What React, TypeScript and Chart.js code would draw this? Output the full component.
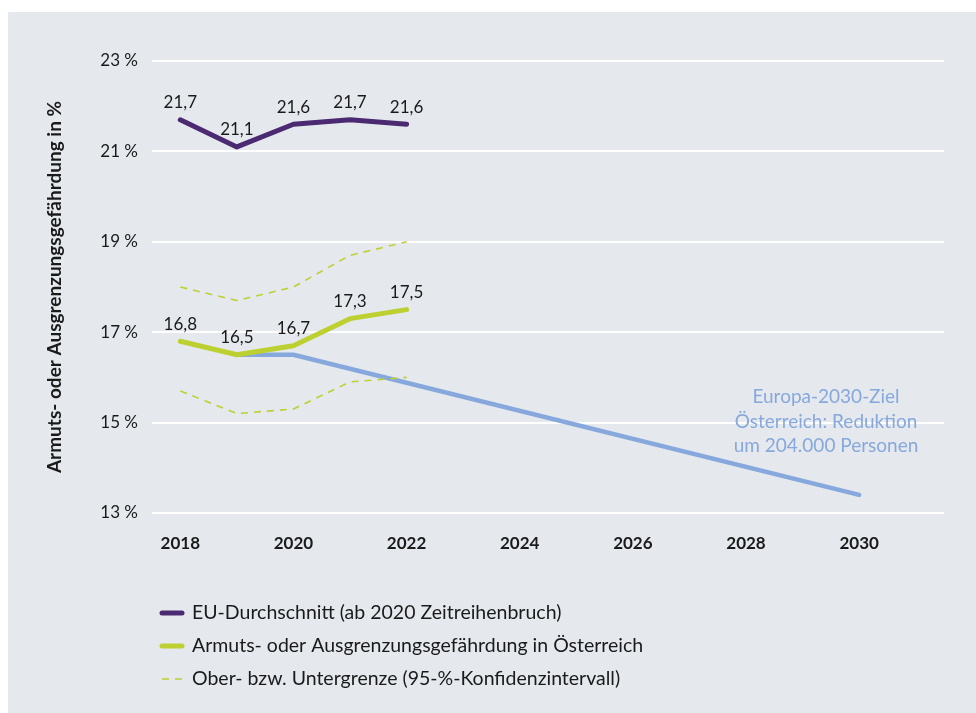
import React, { useEffect, useRef } from "react";
import { Chart, registerables } from "chart.js";

Chart.register(...registerables);

const years = ["2018", "2019", "2020", "2021", "2022", "2023", "2024", "2025", "2026", "2027", "2028", "2029", "2030", "2031"];
const euAverage = [21.7, 21.1, 21.6, 21.7, 21.6, null, null, null, null, null, null, null, null, null];
const austria = [16.8, 16.5, 16.7, 17.3, 17.5, null, null, null, null, null, null, null, null, null];
const upperBound = [18.0, 17.7, 18.0, 18.7, 19.0, null, null, null, null, null, null, null, null, null];
const lowerBound = [15.7, 15.2, 15.3, 15.9, 16.0, null, null, null, null, null, null, null, null, null];
const target2030 = [null, 16.5, 16.5, null, null, null, null, null, null, null, null, null, 13.4, null];
const yTicks = [13, 15, 17, 19, 21, 23];
const legendLabels = [
  "EU-Durchschnitt (ab 2020 Zeitreihenbruch)",
  "Armuts- oder Ausgrenzungsgefährdung in Österreich",
  "Ober- bzw. Untergrenze (95-%-Konfidenzintervall)",
];
const annotationLines = ["Europa-2030-Ziel", "Österreich: Reduktion", "um 204.000 Personen"];
const yTitle = "Armuts- oder Ausgrenzungsgefährdung in %";

const PURPLE = "#4b2a72";
const GREEN = "#bdd032";
const BLUE = "#86a8dc";
const BG = "#e5e9ed";
const FONT = "Lato, 'Open Sans', sans-serif";

const overlayPlugin = {
  id: "overlay",
  afterDatasetsDraw(chart: any) {
    const ctx = chart.ctx;
    const x = chart.scales.x;
    const y = chart.scales.y;
    ctx.save();
    // data labels
    ctx.font = `17px ${FONT}`;
    ctx.fillStyle = "#1a1a1a";
    ctx.textAlign = "center";
    ctx.textBaseline = "middle";
    [euAverage, austria].forEach((arr) => {
      arr.forEach((v, i) => {
        if (v == null) return;
        const px = x.getPixelForValue(i);
        const py = y.getPixelForValue(v);
        ctx.fillText(String(v.toFixed(1)).replace(".", ","), px, py - 17);
      });
    });
    // annotation
    ctx.font = `19px ${FONT}`;
    ctx.fillStyle = BLUE;
    const ax = chart.chartArea.right - 118;
    const ay = y.getPixelForValue(15.56);
    annotationLines.forEach((t, i) => ctx.fillText(t, ax, ay + i * 24.5));
    // legend
    const styles = [
      { color: PURPLE, width: 5, dash: [] as number[] },
      { color: GREEN, width: 5, dash: [] as number[] },
      { color: GREEN, width: 1.5, dash: [7, 6] },
    ];
    ctx.textAlign = "left";
    ctx.font = `19.5px ${FONT}`;
    legendLabels.forEach((t, i) => {
      const ly = 601 + i * 33;
      const s = styles[i];
      ctx.beginPath();
      ctx.strokeStyle = s.color;
      ctx.lineWidth = s.width;
      ctx.lineCap = s.dash.length ? "butt" : "round";
      ctx.setLineDash(s.dash);
      ctx.moveTo(154, ly);
      ctx.lineTo(174, ly);
      ctx.stroke();
      ctx.setLineDash([]);
      ctx.fillStyle = "#1a1a1a";
      ctx.fillText(t, 184, ly);
    });
    ctx.restore();
  },
};

export default function App() {
  const ref = useRef<HTMLCanvasElement | null>(null);
  useEffect(() => {
    if (!ref.current) return;
    const common = { pointRadius: 0, tension: 0, borderCapStyle: "round", borderJoinStyle: "round", fill: false };
    const chart = new Chart(ref.current, {
      type: "line",
      data: {
        labels: years,
        datasets: [
          { label: "Ziel", data: target2030, borderColor: BLUE, borderWidth: 4.5, spanGaps: true, order: 4, ...common },
          { label: "Obergrenze", data: upperBound, borderColor: GREEN, borderWidth: 1.6, borderDash: [7, 6], order: 3, ...common, borderCapStyle: "butt" },
          { label: "Untergrenze", data: lowerBound, borderColor: GREEN, borderWidth: 1.6, borderDash: [7, 6], order: 3, ...common, borderCapStyle: "butt" },
          { label: "Österreich", data: austria, borderColor: GREEN, borderWidth: 5, order: 1, ...common },
          { label: "EU", data: euAverage, borderColor: PURPLE, borderWidth: 5, order: 1, ...common },
        ] as any,
      },
      options: {
        animation: false,
        responsive: false,
        layout: { padding: { top: 49, right: 32, left: 0, bottom: 0 } },
        plugins: { legend: { display: false }, tooltip: { enabled: false } },
        scales: {
          x: {
            type: "category",
            offset: true,
            grid: { display: false, drawTicks: false },
            border: { display: false },
            afterFit: (s: any) => { s.height = 200; },
            ticks: {
              autoSkip: false,
              maxRotation: 0,
              padding: 20,
              color: "#1a1a1a",
              font: { family: FONT, size: 17, weight: "bold" },
              callback: (_v: any, i: number) => (i % 2 === 0 ? years[i] : ""),
            },
          },
          y: {
            min: 13,
            max: 23,
            afterFit: (s: any) => { s.width = 144; },
            afterBuildTicks: (s: any) => { s.ticks = yTicks.map((v) => ({ value: v })); },
            grid: { color: "#ffffff", lineWidth: 2, drawTicks: false },
            border: { display: false },
            ticks: {
              padding: 14,
              color: "#1a1a1a",
              font: { family: FONT, size: 17 },
              callback: (v: any) => `${v} %`,
            },
            title: {
              display: true,
              text: yTitle,
              color: "#1a1a1a",
              font: { family: FONT, size: 19, weight: "bold" },
              padding: { top: 35, bottom: 0 },
            },
          },
        },
      } as any,
      plugins: [overlayPlugin],
    });
    return () => chart.destroy();
  }, []);
  return (
    <div style={{ position: "absolute", left: 8, top: 12, width: 968, height: 701, background: BG }}>
      <canvas ref={ref} width={968} height={701} style={{ display: "block" }} />
    </div>
  );
}
